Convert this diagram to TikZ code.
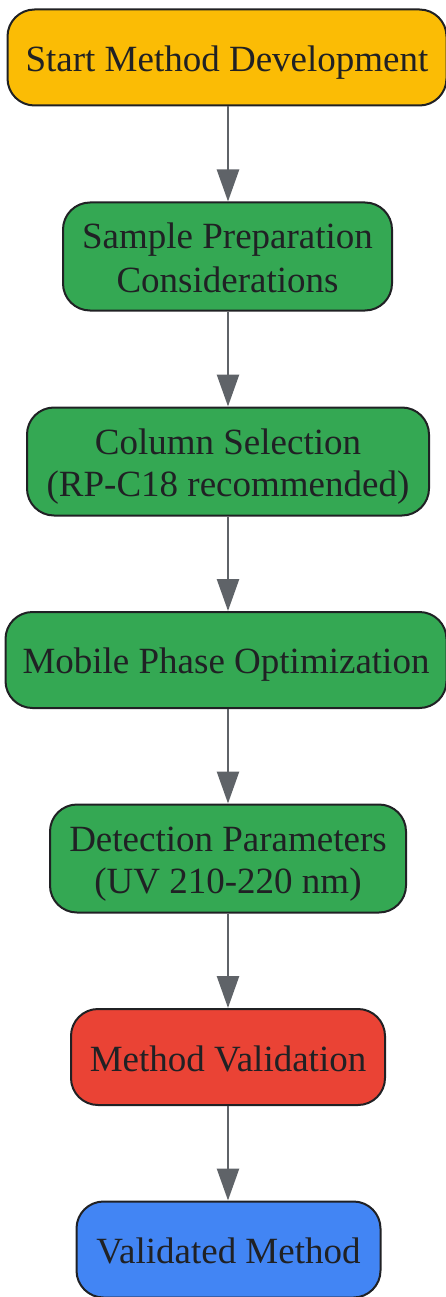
\documentclass[tikz,border=0pt]{standalone}
\usepackage{fontspec}
\setmainfont{Liberation Serif}
\usetikzlibrary{arrows.meta}
\definecolor{cyellow}{HTML}{FBBC05}
\definecolor{cgreen}{HTML}{34A853}
\definecolor{cred}{HTML}{EA4335}
\definecolor{cblue}{HTML}{4285F4}
\definecolor{cborder}{HTML}{202124}
\definecolor{carrow}{HTML}{5F6368}
\definecolor{ctext}{HTML}{202124}
\newcommand\lst{\rule[-7pt]{0pt}{42pt}}
\tikzset{
  box/.style={draw=cborder, line width=2pt, rounded corners=27pt, inner sep=0pt,
    align=center, text=ctext, font=\fontsize{37}{42}\selectfont},
  flow/.style={draw=carrow, line width=2.6pt, -{Triangle[length=32pt,width=22pt]}}
}
\begin{document}
\begin{tikzpicture}[x=1pt,y=-1pt]
\useasboundingbox (0,0) rectangle (446,1297);
\node[box, fill=cyellow, minimum width=439pt, minimum height=96pt] (n1) at (227,57.5) {\lst Start Method Development};
\node[box, fill=cgreen, minimum width=329pt, minimum height=108pt] (n2) at (227.5,256.5) {\lst Sample Preparation\\\lst Considerations};
\node[box, fill=cgreen, minimum width=402pt, minimum height=108pt] (n3) at (228,461.5) {\lst Column Selection\\\lst (RP-C18 recommended)};
\node[box, fill=cgreen, minimum width=441pt, minimum height=96pt] (n4) at (226,660) {\lst Mobile Phase Optimization};
\node[box, fill=cgreen, minimum width=356pt, minimum height=108pt] (n5) at (228,858.5) {\lst Detection Parameters\\\lst (UV 210-220 nm)};
\node[box, fill=cred, minimum width=314pt, minimum height=96pt] (n6) at (228,1057) {\lst Method Validation};
\node[box, fill=cblue, minimum width=304pt, minimum height=96pt] (n7) at (228.5,1249.5) {\lst Validated Method};
\draw[flow] (n1.south -| 228,0) -- (n2.north -| 228,0);
\draw[flow] (n2.south -| 228,0) -- (n3.north -| 228,0);
\draw[flow] (n3.south -| 228,0) -- (n4.north -| 228,0);
\draw[flow] (n4.south -| 228,0) -- (n5.north -| 228,0);
\draw[flow] (n5.south -| 228,0) -- (n6.north -| 228,0);
\draw[flow] (n6.south -| 228,0) -- (n7.north -| 228,0);
\end{tikzpicture}
\end{document}
